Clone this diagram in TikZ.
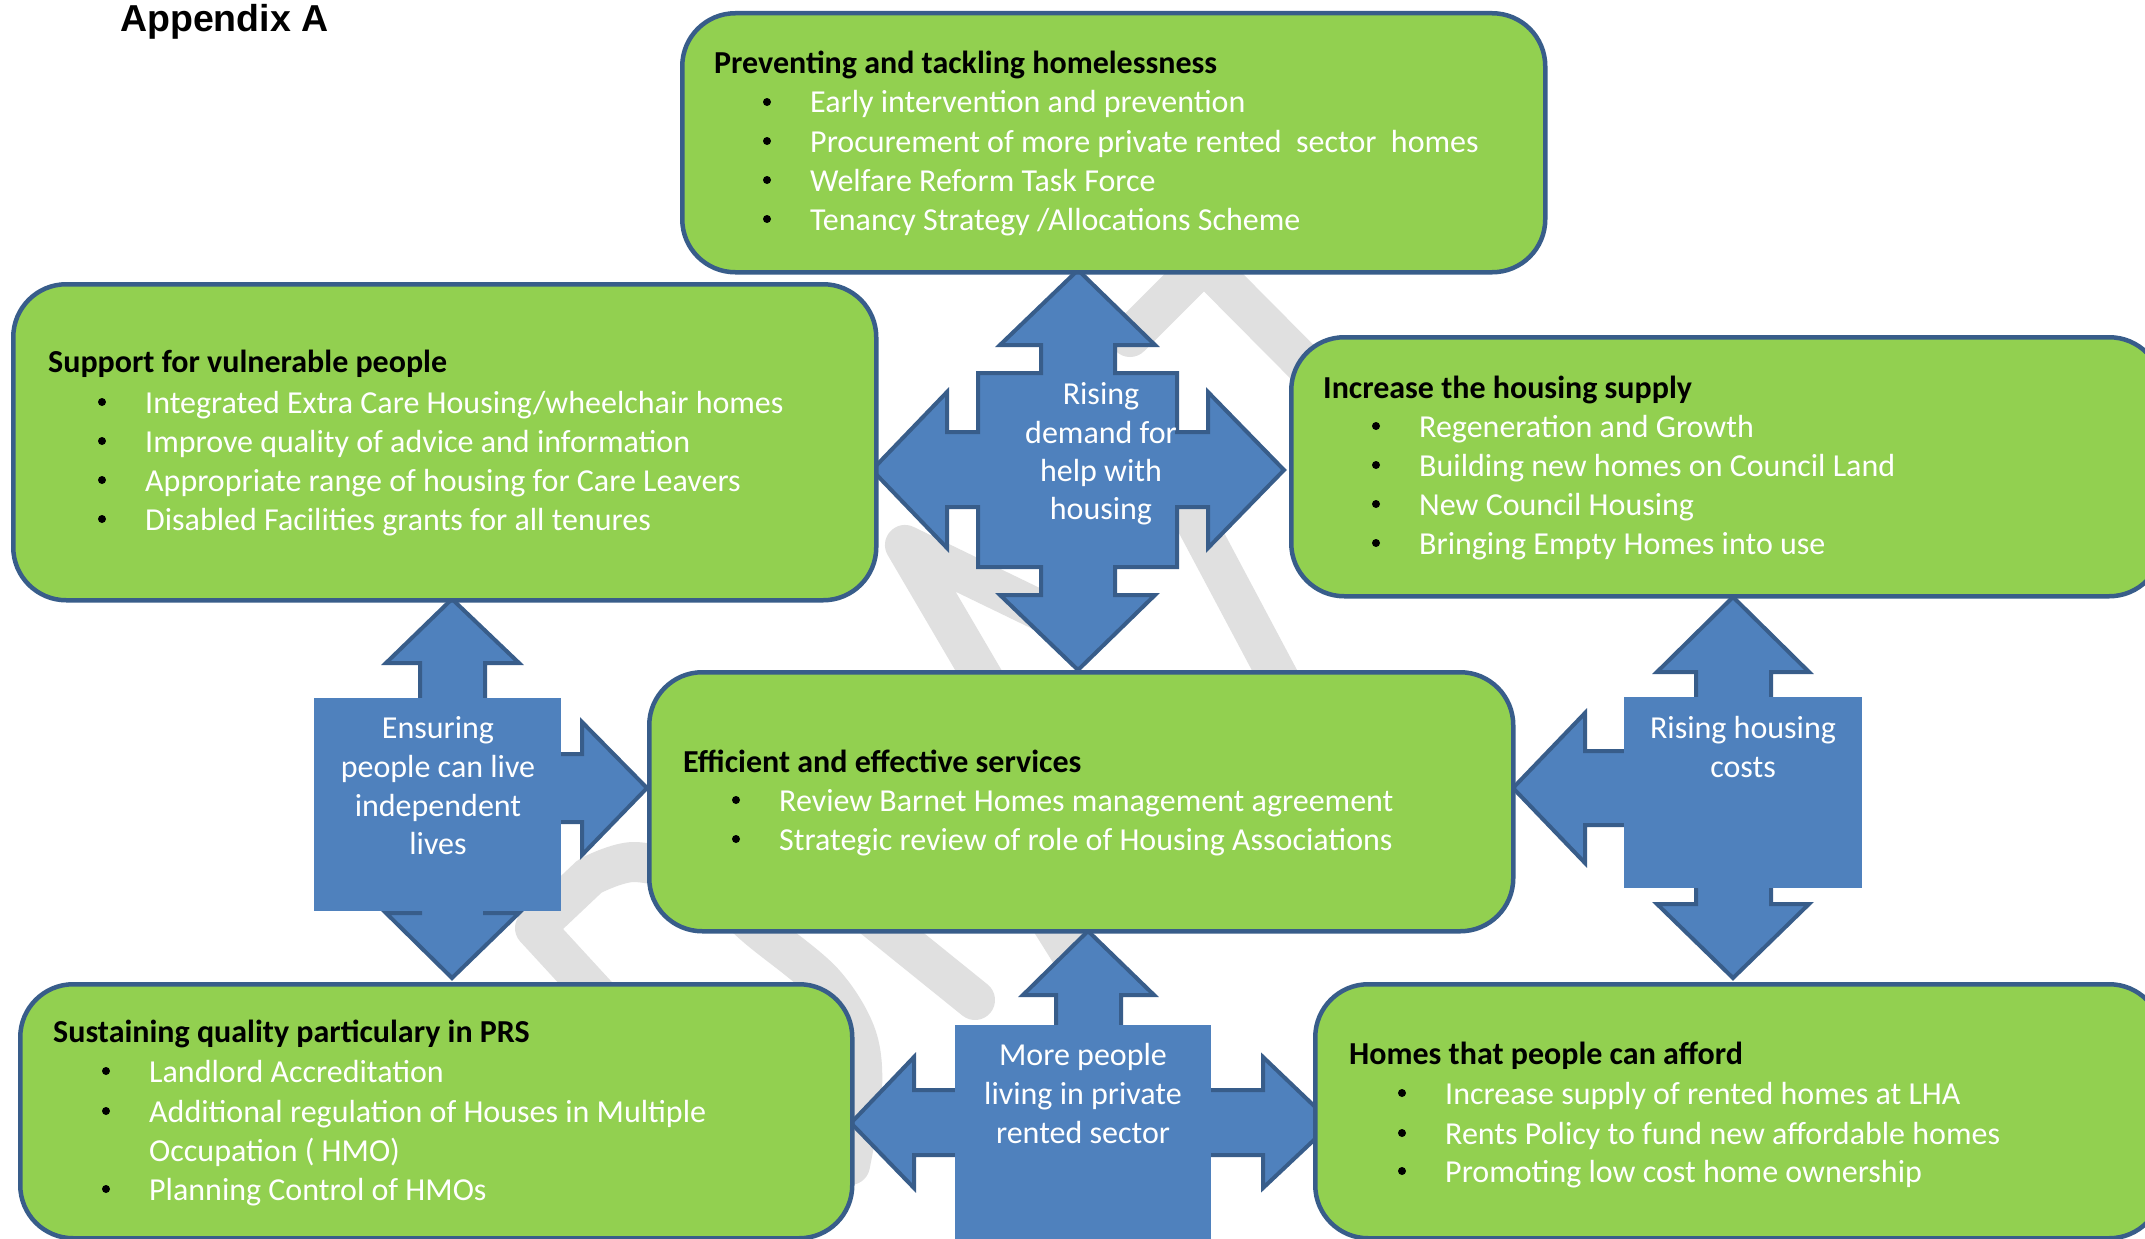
\documentclass[tikz,border=0pt]{standalone}
\usepackage{fontspec}
\setmainfont{Carlito}
\newfontfamily\appfont{Liberation Sans}
\definecolor{boxgreen}{HTML}{92D050}
\definecolor{bord}{HTML}{385D8A}
\definecolor{arrfill}{HTML}{4F81BD}
\definecolor{arrline}{HTML}{385D8A}
\definecolor{bandgray}{HTML}{E0E0E0}
\tikzset{
  gbox/.style={draw=bord, line width=4.5pt, fill=boxgreen, rounded corners=53pt, rectangle, anchor=north west, inner sep=0pt},
  band/.style={draw=bandgray, line width=40pt, line cap=round, line join=round},
  bluearrow/.style={draw=arrline, fill=arrfill, line width=4pt},
  lblrect/.style={fill=arrfill, draw=none},
  ttl/.style={anchor=base west, inner sep=0pt, font=\bfseries\fontsize{32}{39}\selectfont, text=black},
  itm/.style={anchor=base west, inner sep=0pt, font=\fontsize{32}{39}\selectfont, text=white},
  bul/.style={circle, fill=black, inner sep=0pt, minimum size=8pt},
  albl/.style={anchor=base, inner sep=0pt, font=\fontsize{32}{39}\selectfont, text=white},
}
\newcommand\bline[4]{%
  \node[bul] (#1b) at (#2,#3-11) {};
  \node[itm] (#1) at (#2+43,#3) {#4};}
\begin{document}
\begin{tikzpicture}[x=1pt,y=-1pt]
\useasboundingbox (0,0) rectangle (2145,1239);
\clip (0,0) rectangle (2145,1239);
\fill[white] (0,0) rectangle (2145,1239);

% background grey bands
\draw[band] (1130,337) -- (1204,263) -- (1330,390);
\draw[band] (1060,620) -- (905,545) -- (990,690);
\draw[band] (1000,840) -- (1075,960);
\draw[band] (1192,515) -- (1285,690);
\draw[band] (830,883) -- (975,1000);
\draw[band] (615,1015) -- (535,928) -- (590,876) -- plot[smooth, tension=0.55] coordinates {(590,876) (635,862) (700,880) (760,930) (823,982) (856,1035) (862,1090) (850,1165)};

% central four-way arrow
\draw[bluearrow] (1078,270) -- (1155,345) -- (1115,345) -- (1115,373) -- (1177,373) -- (1177,432) -- (1208,432) -- (1208,392) -- (1284,470) -- (1208,548) -- (1208,507) -- (1177,507) -- (1177,567) -- (1115,567) -- (1115,595) -- (1155,595) -- (1078,670) -- (1000,595) -- (1041,595) -- (1041,567) -- (978,567) -- (978,507) -- (947,507) -- (947,548) -- (872,470) -- (947,392) -- (947,432) -- (978,432) -- (978,373) -- (1041,373) -- (1041,345) -- (1000,345) -- cycle;

% left three-way arrow
\draw[bluearrow] (452,599) -- (519,663) -- (485,663) -- (485,754) -- (582,754) -- (582,722) -- (647,788) -- (582,855) -- (582,822) -- (485,822) -- (485,913) -- (519,913) -- (452,978) -- (386,913) -- (420,913) -- (420,663) -- (386,663) -- cycle;
\fill[lblrect] (314,698) rectangle (561,911);

% right three-way arrow
\draw[bluearrow] (1733,597) -- (1809,672) -- (1771,672) -- (1771,904) -- (1809,904) -- (1733,978) -- (1657,904) -- (1696,904) -- (1696,825) -- (1585,825) -- (1585,863) -- (1513,788) -- (1585,713) -- (1585,751) -- (1696,751) -- (1696,672) -- (1657,672) -- cycle;
\fill[lblrect] (1624,697) rectangle (1862,888);

% bottom arrow
\draw[bluearrow] (1088,931) -- (1154,995) -- (1121,995) -- (1121,1090) -- (1263,1090) -- (1263,1057) -- (1332,1123) -- (1263,1188) -- (1263,1155) -- (1121,1155) -- (1121,1300) -- (1056,1300) -- (1056,1155) -- (914,1155) -- (914,1188) -- (851,1123) -- (914,1057) -- (914,1090) -- (1056,1090) -- (1056,995) -- (1023,995) -- cycle;
\fill[lblrect] (955,1025) rectangle (1211,1300);

% green boxes
\node[gbox, minimum width=863pt, minimum height=259pt] (topbox) at (680,11) {};
\node[gbox, minimum width=863pt, minimum height=316pt] (leftbox) at (11,282) {};
\node[gbox, minimum width=871pt, minimum height=259pt] (rightbox) at (1289,335) {};
\node[gbox, minimum width=864pt, minimum height=259pt] (centerbox) at (647,670) {};
\node[gbox, minimum width=832pt, minimum height=254pt] (blbox) at (18,982) {};
\node[gbox, minimum width=847pt, minimum height=254pt] (brbox) at (1313,982) {};

% title
\node[anchor=base west, inner sep=0pt, font=\appfont\bfseries\fontsize{37.5}{40}\selectfont] (app) at (120,32) {Appendix A};

\begin{scope}[yshift=-2pt]
% top box text
\node[ttl] (t0) at (714,72) {Preventing and tackling homelessness};
\bline{t1}{767}{111}{Early intervention and prevention}
\bline{t2}{767}{150}{Procurement of more private rented\ \ sector\ \ homes}
\bline{t3}{767}{189}{Welfare Reform Task Force}
\bline{t4}{767}{228}{Tenancy Strategy /Allocations Scheme}

% left box text
\node[ttl] (l0) at (48,370) {Support for vulnerable people};
\bline{l1}{102}{411}{Integrated Extra Care Housing/wheelchair homes}
\bline{l2}{102}{450}{Improve quality of advice and information}
\bline{l3}{102}{489}{Appropriate range of housing for Care Leavers}
\bline{l4}{102}{528}{Disabled Facilities grants for all tenures}

% right box text
\node[ttl] (r0) at (1323,396) {Increase the housing supply};
\bline{r1}{1376}{435}{Regeneration and Growth}
\bline{r2}{1376}{474}{Building new homes on Council Land}
\bline{r3}{1376}{513}{New Council Housing}
\bline{r4}{1376}{552}{Bringing Empty Homes into use}

% center box text
\node[ttl] (c0) at (683,770) {Efficient and effective services};
\bline{c1}{736}{809}{Review Barnet Homes management agreement}
\bline{c2}{736}{848}{Strategic review of role of Housing Associations}

% bottom left box text
\node[ttl] (bl0) at (53,1040) {Sustaining quality particulary in PRS};
\bline{bl1}{106}{1080}{Landlord Accreditation}
\bline{bl2}{106}{1120}{Additional regulation of Houses in Multiple}
\node[itm] (bl2b) at (149,1159) {Occupation ( HMO)};
\bline{bl3}{106}{1198}{Planning Control of HMOs}

% bottom right box text
\node[ttl] (br0) at (1349,1062) {Homes that people can afford};
\bline{br1}{1402}{1102}{Increase supply of rented homes at LHA}
\bline{br2}{1402}{1142}{Rents Policy to fund new affordable homes}
\bline{br3}{1402}{1180}{Promoting low cost home ownership}
\end{scope}

% arrow labels
\node[albl] (a1) at (1101,404) {Rising};
\node[albl] (a2) at (1101,443) {demand for};
\node[albl] (a3) at (1101,481) {help with};
\node[albl] (a4) at (1101,519) {housing};

\node[albl] (e1) at (438,738) {Ensuring};
\node[albl] (e2) at (438,777) {people can live};
\node[albl] (e3) at (438,816) {independent};
\node[albl] (e4) at (438,854) {lives};

\node[albl] (h1) at (1743,738) {Rising housing};
\node[albl] (h2) at (1743,777) {costs};

\node[albl] (m1) at (1083,1065) {More people};
\node[albl] (m2) at (1083,1104) {living in private};
\node[albl] (m3) at (1083,1143) {rented sector};
\end{tikzpicture}
\end{document}
